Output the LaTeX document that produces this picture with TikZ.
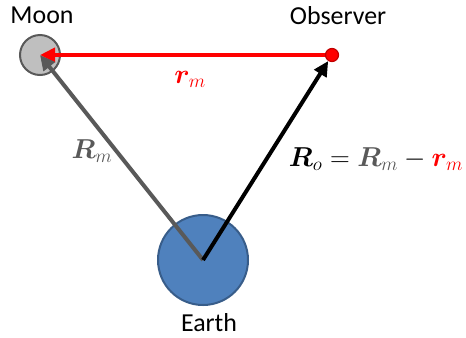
\RequirePackage{fix-cm}
\documentclass[tikz,border=0pt]{standalone}
\usepackage{fontspec}
\usepackage{bm}
\setmainfont{Carlito}
\usetikzlibrary{arrows.meta}
\definecolor{earthfill}{HTML}{4F81BD}
\definecolor{earthline}{HTML}{385D8A}
\definecolor{moonfill}{HTML}{BFBFBF}
\definecolor{darkgray}{HTML}{595959}
\definecolor{obsline}{HTML}{C00000}
\tikzset{
  body/.style={circle,inner sep=0pt,line width=2bp},
  lbl/.style={font=\fontsize{26}{30}\selectfont,inner sep=0pt},
  mlbl/.style={font=\fontsize{27.5}{32}\selectfont,inner sep=0pt},
  vec/.style={line width=4bp,-{Triangle[length=15bp,width=14bp]}},
}
\begin{document}
\begin{tikzpicture}[x=1bp,y=-1bp]
\useasboundingbox (0,0) rectangle (466,337);
\node[body,draw=earthline,fill=earthfill,minimum size=90bp] (earth) at (203,260) {};
\node[body,draw=darkgray,fill=moonfill,minimum size=40bp] (moon) at (40,55) {};
\node[lbl] (moonlbl) at (42,15) {Moon};
\node[lbl] (obslbl) at (338,16) {Observer};
\node[lbl] (earthlbl) at (209,323) {Earth};
\coordinate (obspt) at (332,55);
\draw[vec,red] (obspt) -- (moon.center);
\draw[vec,darkgray] (earth.center) -- (moon.center);
\node[body,draw=obsline,fill=red,minimum size=13bp,line width=1.2bp] (obs) at (obspt) {};
\draw[vec,black] (earth.center) -- (obs);
\node[mlbl,text=red] (rm) at (190,79) {$\bm{r}_m$};
\node[mlbl,text=darkgray] (Rm) at (92,151) {$\bm{R}_m$};
\node[mlbl] (eq) at (376,159) {$\bm{R}_o = {\color{darkgray}\bm{R}_m} - {\color{red}\bm{r}_m}$};
\end{tikzpicture}
\end{document}
